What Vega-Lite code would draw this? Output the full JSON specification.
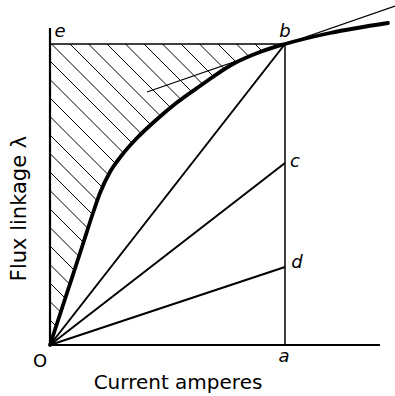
{
  "$schema": "https://vega.github.io/schema/vega-lite/v6.json",
  "width": 345,
  "height": 345,
  "autosize": {"type": "none"},
  "padding": {"left": 50, "top": 0, "right": 0, "bottom": 51},
  "background": "white",
  "config": {"view": {"stroke": null}, "font": "DejaVu Sans"},
  "datasets": {
    "axes": [
      {"x": 0, "y": 0, "x2": 0, "y2": 317},
      {"x": 0, "y": 0, "x2": 330, "y2": 0}
    ],
    "guides": [
      {"x": 0, "y": 301, "x2": 235, "y2": 301},
      {"x": 235, "y": 0, "x2": 235, "y2": 301}
    ],
    "rays": [
      {"x": 0, "y": 0, "x2": 235, "y2": 301},
      {"x": 0, "y": 0, "x2": 235, "y2": 182},
      {"x": 0, "y": 0, "x2": 235, "y2": 78}
    ],
    "tangent": [
      {"x": 97, "y": 253, "x2": 345, "y2": 339}
    ],
    "curve": [
      {"x": 0, "y": 0},
      {"x": 16, "y": 49},
      {"x": 32, "y": 98},
      {"x": 44, "y": 135},
      {"x": 50, "y": 152},
      {"x": 60, "y": 173},
      {"x": 72, "y": 190},
      {"x": 87, "y": 207},
      {"x": 105, "y": 224},
      {"x": 125, "y": 241},
      {"x": 150, "y": 259},
      {"x": 183, "y": 281},
      {"x": 210, "y": 293},
      {"x": 235, "y": 301},
      {"x": 280, "y": 312},
      {"x": 338, "y": 322}
    ],
    "hatch": [
      {"x": 0, "y": 25, "x2": 6.2, "y2": 18.8},
      {"x": 0, "y": 43.5, "x2": 10.7, "y2": 32.8},
      {"x": 0, "y": 62, "x2": 15.3, "y2": 46.7},
      {"x": 0, "y": 80.5, "x2": 19.8, "y2": 60.7},
      {"x": 0, "y": 99, "x2": 24.4, "y2": 74.6},
      {"x": 0, "y": 117.5, "x2": 28.9, "y2": 88.6},
      {"x": 0, "y": 136, "x2": 33.5, "y2": 102.5},
      {"x": 0, "y": 154.5, "x2": 38, "y2": 116.5},
      {"x": 0, "y": 173, "x2": 42.5, "y2": 130.5},
      {"x": 0, "y": 191.5, "x2": 47.3, "y2": 144.2},
      {"x": 0, "y": 210, "x2": 52.6, "y2": 157.4},
      {"x": 0, "y": 228.5, "x2": 58.5, "y2": 170},
      {"x": 0, "y": 247, "x2": 65.8, "y2": 181.2},
      {"x": 0, "y": 265.5, "x2": 73.6, "y2": 191.9},
      {"x": 0, "y": 284, "x2": 82.3, "y2": 201.7},
      {"x": 1.5, "y": 301, "x2": 91.4, "y2": 211.1},
      {"x": 20, "y": 301, "x2": 100.9, "y2": 220.1},
      {"x": 38.5, "y": 301, "x2": 110.7, "y2": 228.8},
      {"x": 57, "y": 301, "x2": 120.7, "y2": 237.3},
      {"x": 75.5, "y": 301, "x2": 131.1, "y2": 245.4},
      {"x": 94, "y": 301, "x2": 141.9, "y2": 253.1},
      {"x": 112.5, "y": 301, "x2": 152.7, "y2": 260.8},
      {"x": 131, "y": 301, "x2": 163.8, "y2": 268.2},
      {"x": 149.5, "y": 301, "x2": 174.9, "y2": 275.6},
      {"x": 168, "y": 301, "x2": 186.5, "y2": 282.5},
      {"x": 186.5, "y": 301, "x2": 199.3, "y2": 288.2},
      {"x": 205, "y": 301, "x2": 212.3, "y2": 293.7},
      {"x": 223.5, "y": 301, "x2": 226.3, "y2": 298.2}
    ],
    "letters": [
      {"x": 10, "y": 313, "label": "e"},
      {"x": 235, "y": 313, "label": "b"},
      {"x": 245, "y": 183, "label": "c"},
      {"x": 247, "y": 82, "label": "d"},
      {"x": 234, "y": -12, "label": "a"}
    ],
    "origin": [
      {"x": -10, "y": -17, "label": "O"}
    ]
  },
  "encoding": {
    "x": {
      "field": "x",
      "type": "quantitative",
      "scale": {"domain": [0, 345], "nice": false, "zero": false},
      "axis": {
        "domain": false, "ticks": false, "labels": false, "grid": false,
        "title": "Current amperes",
        "titleFont": "DejaVu Sans", "titleFontSize": 20, "titleFontWeight": "normal",
        "titleColor": "black", "titleX": 127.5, "titleY": 43,
        "titleBaseline": "alphabetic", "titleAlign": "center"
      }
    },
    "y": {
      "field": "y",
      "type": "quantitative",
      "scale": {"domain": [0, 345], "nice": false, "zero": false},
      "axis": {
        "domain": false, "ticks": false, "labels": false, "grid": false,
        "title": "Flux linkage λ",
        "titleFont": "DejaVu Sans", "titleFontSize": 21, "titleFontWeight": "normal",
        "titleColor": "black", "titleX": -25, "titleY": 208, "titleAngle": 270,
        "titleBaseline": "alphabetic", "titleAlign": "center"
      }
    }
  },
  "layer": [
    {
      "data": {"name": "hatch"},
      "mark": {"type": "rule", "stroke": "black", "strokeWidth": 1},
      "encoding": {"x2": {"field": "x2"}, "y2": {"field": "y2"}}
    },
    {
      "data": {"name": "axes"},
      "mark": {"type": "rule", "stroke": "black", "strokeWidth": 2.2},
      "encoding": {"x2": {"field": "x2"}, "y2": {"field": "y2"}}
    },
    {
      "data": {"name": "guides"},
      "mark": {"type": "rule", "stroke": "black", "strokeWidth": 1.5},
      "encoding": {"x2": {"field": "x2"}, "y2": {"field": "y2"}}
    },
    {
      "data": {"name": "rays"},
      "mark": {"type": "rule", "stroke": "black", "strokeWidth": 2},
      "encoding": {"x2": {"field": "x2"}, "y2": {"field": "y2"}}
    },
    {
      "data": {"name": "tangent"},
      "mark": {"type": "rule", "stroke": "black", "strokeWidth": 1.3},
      "encoding": {"x2": {"field": "x2"}, "y2": {"field": "y2"}}
    },
    {
      "data": {"name": "curve"},
      "mark": {"type": "line", "stroke": "black", "strokeWidth": 3.8, "strokeCap": "round", "strokeJoin": "round", "interpolate": "monotone"},
      "encoding": {}
    },
    {
      "data": {"name": "letters"},
      "mark": {"type": "text", "font": "DejaVu Sans", "fontSize": 18, "fontStyle": "italic", "color": "black", "align": "center", "baseline": "middle"},
      "encoding": {"text": {"field": "label"}}
    },
    {
      "data": {"name": "origin"},
      "mark": {"type": "text", "font": "DejaVu Sans", "fontSize": 18, "color": "black", "align": "center", "baseline": "middle"},
      "encoding": {"text": {"field": "label"}}
    }
  ]
}
